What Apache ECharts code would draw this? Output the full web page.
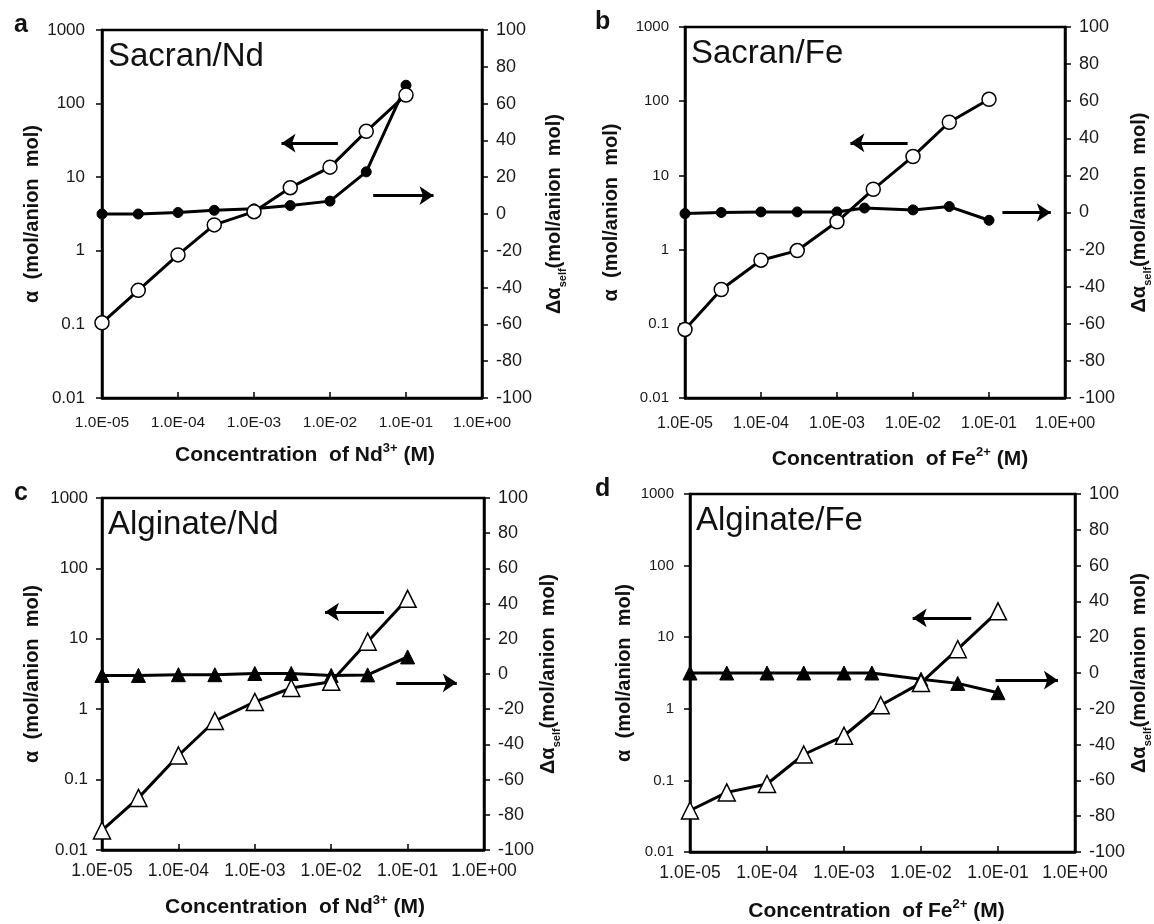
<!DOCTYPE html>
<html>
<head>
<meta charset="utf-8">
<script src="https://cdn.jsdelivr.net/npm/echarts@6/dist/echarts.min.js"></script>
<style>
    html, body { margin: 0; padding: 0; background: #fff; }
    #chart { width: 1154px; height: 924px; }
</style>
</head>
<body>
<div id="chart"></div>
<script>
// concentration of metal ion (M)
var conc = [1e-5, 3e-5, 1e-4, 3e-4, 1e-3, 3e-3, 1e-2, 3e-2, 1e-1];
var concFe = [1e-5, 3e-5, 1e-4, 3e-4, 1e-3, 2.3e-3, 1e-2, 3e-2, 1e-1];

// alpha (mol/anion mol), left log axis
var sacNdAlpha = [0.105, 0.29, 0.88, 2.25, 3.4, 7.2, 13.7, 42, 131];
var sacFeAlpha = [0.084, 0.29, 0.72, 0.97, 2.37, 6.5, 18, 52, 106];
var algNdAlpha = [0.019, 0.055, 0.22, 0.68, 1.27, 2.0, 2.45, 9.1, 37];
var algFeAlpha = [0.038, 0.068, 0.089, 0.23, 0.42, 1.12, 2.3, 6.8, 23];

// delta alpha self (mol/anion mol), right axis
var sacNdSelf = [0, 0, 0.8, 2.0, 2.8, 4.6, 7.0, 22.9, 70];
var sacFeSelf = [-0.6, 0, 0.3, 0.3, 0.3, 2.4, 1.4, 3.2, -4.2];
var algNdSelf = [-0.8, -0.8, -0.4, -0.4, 0.3, 0.3, -0.8, -0.5, 9.7];
var algFeSelf = [0, 0, 0, 0, 0, 0, -3.5, -5.8, -11];

var xTickLabels = ['1.0E-05', '1.0E-04', '1.0E-03', '1.0E-02', '1.0E-01', '1.0E+00'];
var alphaTickLabels = ['0.01', '0.1', '1', '10', '100', '1000'];
var panelLetters = ['a', 'b', 'c', 'd'];
var panelTitles = ['Sacran/Nd', 'Sacran/Fe', 'Alginate/Nd', 'Alginate/Fe'];
var ions = [['Nd', '3+'], ['Fe', '2+'], ['Nd', '3+'], ['Fe', '2+']];

// arrows: [x from, x to, y]
var leftArrows = [[1.27e-2, 2.3e-3, 29], [8.5e-3, 1.5e-3, 27.5], [4.9e-2, 8.3e-3, 24], [4.5e-2, 7.8e-3, 18.6]];
var rightArrows = [[3.7e-2, 0.23, 10], [0.15, 0.65, 0], [7.1e-2, 0.44, -5], [9.3e-2, 0.6, -4]];

var panels = [
    { grid: { left: 102, top: 30, width: 380, height: 368 }, x: conc, alpha: sacNdAlpha, xs: conc, self: sacNdSelf, shape: 'circle',
      fs: { left: 17, x: 15.5 }, gap: { left: 17, x: 17 }, nameGap: { left: 60, right: 62, x: 44 }, namePad: [0, 0, 0, 26] },
    { grid: { left: 685, top: 27, width: 387, height: 371 }, x: conc, alpha: sacFeAlpha, xs: concFe, self: sacFeSelf, shape: 'circle',
      fs: { left: 15, x: 16 }, gap: { left: 16, x: 18 }, nameGap: { left: 64, right: 64, x: 48 }, namePad: [0, 0, 0, 50] },
    { grid: { left: 102, top: 498, width: 382, height: 352 }, x: conc, alpha: algNdAlpha, xs: conc, self: algNdSelf, shape: 'triangle',
      fs: { left: 17, x: 17.5 }, gap: { left: 14, x: 12 }, nameGap: { left: 60, right: 54, x: 44 }, namePad: [0, 0, 0, 4] },
    { grid: { left: 690, top: 494, width: 387, height: 358 }, x: conc, alpha: algFeAlpha, xs: concFe, self: algFeSelf, shape: 'triangle',
      fs: { left: 15, x: 17.5 }, gap: { left: 16, x: 12 }, nameGap: { left: 56, right: 54, x: 46 }, namePad: [0, 12, 0, 0] }
];

function zip(a, b) {
    return a.map(function (v, i) { return [v, b[i]]; });
}

function expOf(v) {
    return Math.round(Math.log(v) / Math.LN10);
}

var FONT = '"Liberation Sans", Arial, sans-serif';

var grids = [], xAxes = [], yAxes = [], series = [], graphics = [];

panels.forEach(function (p, i) {
    grids.push(Object.assign({ show: true, borderColor: '#000', borderWidth: 2.5, containLabel: false }, p.grid));

    xAxes.push({
        gridIndex: i,
        type: 'log',
        logBase: 10,
        min: 1e-5,
        max: 1,
        axisLine: { show: true, onZero: false, lineStyle: { color: '#000', width: 2.5 } },
        axisTick: { show: true, inside: true, length: 6, lineStyle: { color: '#000', width: 1.5 } },
        splitLine: { show: false },
        axisLabel: {
            margin: p.gap.x,
            fontFamily: FONT,
            fontSize: p.fs.x,
            color: '#1a1a1a',
            formatter: function (v) { return xTickLabels[expOf(v) + 5]; }
        },
        name: '{t|Concentration  of ' + ions[i][0] + '}{s|' + ions[i][1] + '}{t| (M)}',
        nameLocation: 'middle',
        nameGap: p.nameGap.x,
        nameTextStyle: {
            padding: p.namePad,
            rich: {
                t: { fontFamily: FONT, fontWeight: 'bold', fontSize: 21, color: '#111', lineHeight: 24, verticalAlign: 'bottom' },
                s: { fontFamily: FONT, fontWeight: 'bold', fontSize: 13, color: '#111', lineHeight: 24, verticalAlign: 'top' }
            }
        }
    });

    yAxes.push({
        gridIndex: i,
        type: 'log',
        logBase: 10,
        min: 0.01,
        max: 1000,
        position: 'left',
        axisLine: { show: true, onZero: false, lineStyle: { color: '#000', width: 2.5 } },
        axisTick: { show: true, length: 6, lineStyle: { color: '#000', width: 1.5 } },
        splitLine: { show: false },
        axisLabel: {
            margin: p.gap.left,
            fontFamily: FONT,
            fontSize: p.fs.left,
            color: '#1a1a1a',
            formatter: function (v) { return alphaTickLabels[expOf(v) + 2]; }
        },
        name: 'α  (mol/anion  mol)',
        nameLocation: 'middle',
        nameRotate: 90,
        nameGap: p.nameGap.left,
        nameTextStyle: { fontFamily: FONT, fontWeight: 'bold', fontSize: 20, color: '#111' }
    });

    yAxes.push({
        gridIndex: i,
        type: 'value',
        min: -100,
        max: 100,
        interval: 20,
        position: 'right',
        axisLine: { show: true, onZero: false, lineStyle: { color: '#000', width: 2.5 } },
        axisTick: { show: true, length: 6, lineStyle: { color: '#000', width: 1.5 } },
        splitLine: { show: false },
        axisLabel: { margin: 14, fontFamily: FONT, fontSize: 18, color: '#1a1a1a' },
        name: '{d|Δα}{s|self}{d|(mol/anion  mol)}',
        nameLocation: 'middle',
        nameRotate: 90,
        nameGap: p.nameGap.right,
        nameTextStyle: {
            rich: {
                d: { fontFamily: FONT, fontWeight: 'bold', fontSize: 20, color: '#111', lineHeight: 24, verticalAlign: 'top' },
                s: { fontFamily: FONT, fontWeight: 'bold', fontSize: 11, color: '#111', lineHeight: 24, verticalAlign: 'bottom' }
            }
        }
    });

    var big = p.shape === 'circle' ? 14 : 17;
    var small = p.shape === 'circle' ? 10 : 14;
    var la = leftArrows[i], ra = rightArrows[i];
    var arrowLine = { color: '#000', width: 3, type: 'solid' };

    // filled markers, right axis
    series.push({
        type: 'line',
        xAxisIndex: i,
        yAxisIndex: 2 * i + 1,
        data: zip(p.xs, p.self),
        symbol: p.shape,
        symbolSize: small,
        itemStyle: { color: '#000', borderColor: '#000' },
        lineStyle: { color: '#000', width: 3 },
        markLine: {
            silent: true,
            symbol: ['none', 'arrow'],
            symbolSize: 14,
            label: { show: false },
            lineStyle: arrowLine,
            data: [[{ coord: [ra[0], ra[2]] }, { coord: [ra[1], ra[2]] }]]
        },
        z: 3
    });

    // open markers, left axis
    series.push({
        type: 'line',
        xAxisIndex: i,
        yAxisIndex: 2 * i,
        data: zip(p.x, p.alpha),
        symbol: p.shape,
        symbolSize: big,
        itemStyle: { color: '#fff', borderColor: '#000', borderWidth: 1.5 },
        lineStyle: { color: '#000', width: 3 },
        markLine: {
            silent: true,
            symbol: ['none', 'arrow'],
            symbolSize: 14,
            label: { show: false },
            lineStyle: arrowLine,
            data: [[{ coord: [la[0], la[2]] }, { coord: [la[1], la[2]] }]]
        },
        z: 4
    });

    var g = p.grid;
    graphics.push({
        type: 'text',
        left: g.left + 6,
        top: g.top + 10,
        style: { text: panelTitles[i], font: '33px ' + FONT, fill: '#111' }
    });
    graphics.push({
        type: 'text',
        left: i % 2 === 0 ? 14 : 595,
        top: g.top - 17,
        style: { text: panelLetters[i], font: 'bold 25px ' + FONT, fill: '#111' }
    });
});

var chart = echarts.init(document.getElementById('chart'));
chart.setOption({
    animation: false,
    backgroundColor: '#fff',
    grid: grids,
    xAxis: xAxes,
    yAxis: yAxes,
    series: series,
    graphic: graphics
});
</script>
</body>
</html>
